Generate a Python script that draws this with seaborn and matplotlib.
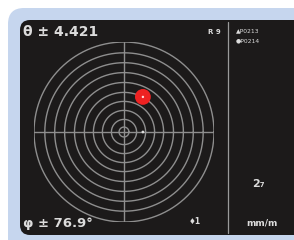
import matplotlib
matplotlib.use("Agg")
import matplotlib.pyplot as plt
from matplotlib.patches import FancyBboxPatch
import numpy as np
import pandas as pd
import seaborn as sns

# ---- data ----
ring_radii = [10.0, 8.8, 7.7, 6.6, 5.5, 4.4, 3.4, 2.4, 1.4, 0.55]
dot_x = [2.1]
dot_y = [3.9]
mark_x = [2.1]
mark_y = [0.0]
theta_label = "θ ± 4.421"
phi_label = "φ ± 76.9°"
range_label = "R 9"
legend_labels = ["▲P0213", "●P0214"]
count_label = "♦1"
value_label = "2₇"
unit_label = "mm/m"

sns.set_theme(style="white")
plt.rcParams['font.family'] = ['DejaVu Sans']

W, H = 294, 240
fig = plt.figure(figsize=(W / 100, H / 100), dpi=100)
fig.patch.set_facecolor("white")

# background axes in pixel coordinates
bg = fig.add_axes([0, 0, 1, 1])
bg.set_xlim(0, W)
bg.set_ylim(H, 0)
bg.axis("off")
bg.add_patch(FancyBboxPatch((8, 8), 320, 250, boxstyle="round,pad=0,rounding_size=16",
                            facecolor="#c6d6ee", edgecolor="none"))
bg.add_patch(FancyBboxPatch((20, 20), 300, 215, boxstyle="round,pad=0,rounding_size=10",
                            facecolor="#1c1a1a", edgecolor="none"))
bg.plot([228, 228], [22, 233], color="#9a9a9a", lw=0.9)

txt = dict(color="#dcdcdc", va="center")
bg.text(23, 32, theta_label, fontsize=10, fontweight="bold", ha="left", **txt)
bg.text(23, 224, phi_label, fontsize=9.5, fontweight="bold", ha="left", **txt)
bg.text(208, 32, range_label, fontsize=5, fontweight="bold", ha="left", **txt)
bg.text(236, 31, legend_labels[0], fontsize=4.3, ha="left", **txt)
bg.text(236, 41, legend_labels[1], fontsize=4.3, ha="left", **txt)
bg.text(195, 222, count_label, fontsize=5.5, fontweight="bold", ha="center", **txt)
bg.text(258, 184, value_label, fontsize=8, fontweight="bold", ha="center", **txt)
bg.text(262, 223, unit_label, fontsize=6.5, fontweight="bold", ha="center", **txt)

# target axes: center at px (124,132), radius 90 px
cx, cy, R = 124, 132, 90
ax = fig.add_axes([(cx - R) / W, (H - cy - R) / H, 2 * R / W, 2 * R / H])
ax.set_xlim(-10, 10)
ax.set_ylim(-10, 10)
ax.axis("off")
ax.patch.set_alpha(0)

t = np.linspace(0, 2 * np.pi, 361)
rows = []
for i, r in enumerate(ring_radii):
    for k, a in enumerate(t):
        rows.append({"ring": i, "k": k, "x": r * np.cos(a), "y": r * np.sin(a)})
rings = pd.DataFrame(rows)
lc = "#8e8e8e"
for i, g in rings.groupby("ring"):
    sns.lineplot(data=g, x="x", y="y", sort=False, estimator=None, ax=ax,
                 color=lc, lw=1.0, legend=False)
r0 = ring_radii[0]
ax.plot([-r0, r0], [0, 0], color=lc, lw=1.0)
ax.plot([0, 0], [-r0, r0], color=lc, lw=1.0)

sns.scatterplot(x=dot_x, y=dot_y, ax=ax, s=130, color="#ee2222", edgecolor="none", zorder=5)
sns.scatterplot(x=dot_x, y=dot_y, ax=ax, s=3, color="#ffdddd", edgecolor="none", zorder=6)
sns.scatterplot(x=mark_x, y=mark_y, ax=ax, s=4, color="#dddddd", edgecolor="none", zorder=6)

fig.savefig("out.png", dpi=100, facecolor="white")
